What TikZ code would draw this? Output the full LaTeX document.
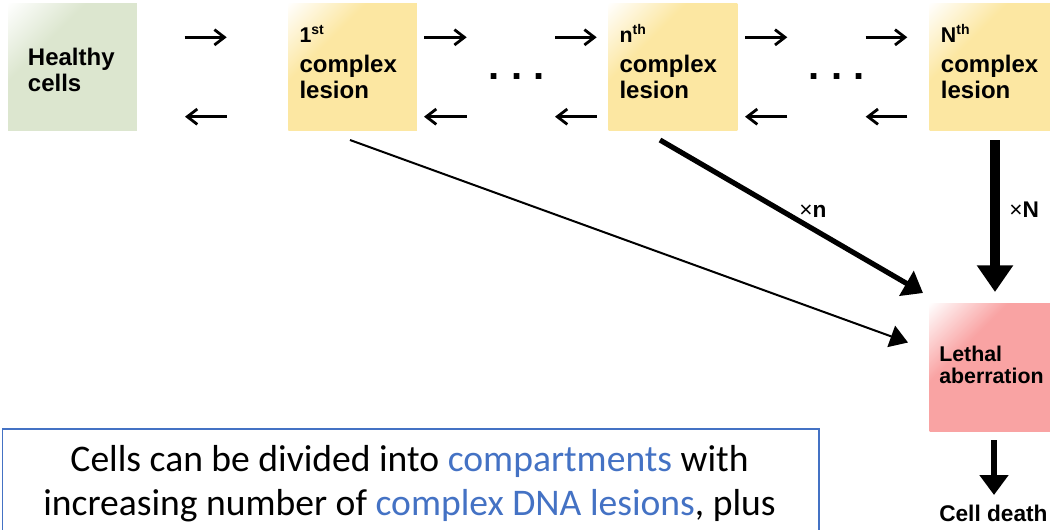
\documentclass[tikz,border=0pt]{standalone}
\usepackage{fontspec}
\setmainfont{Liberation Sans}
\newfontfamily\notefont{Carlito}
\usetikzlibrary{arrows.meta,calc}
\definecolor{gfill}{HTML}{DCE6CF}
\definecolor{yfill}{HTML}{FCE7A2}
\definecolor{pfill}{HTML}{F9A3A3}
\definecolor{blu}{HTML}{4472C4}
\pgfdeclarehorizontalshading{gsh}{100bp}{color(0bp)=(white); color(14bp)=(white); color(36bp)=(gfill); color(100bp)=(gfill)}
\pgfdeclarehorizontalshading{ysh}{100bp}{color(0bp)=(white); color(14bp)=(white); color(36bp)=(yfill); color(100bp)=(yfill)}
\pgfdeclarehorizontalshading{psh}{100bp}{color(0bp)=(white); color(14bp)=(white); color(36bp)=(pfill); color(100bp)=(pfill)}
\newcommand\stack[1]{\begin{tabular}[t]{@{}l@{}}#1\end{tabular}}
\newcommand\cstack[1]{\begin{tabular}[t]{@{}c@{}}#1\end{tabular}}
\newcommand\supr[1]{\raisebox{6.3pt}{\fontsize{10.5pt}{10.5pt}\selectfont #1}}
\newcommand\firstline[1]{{\fontsize{16pt}{16pt}\selectfont #1}}
\begin{document}
\begin{tikzpicture}[x=0.75pt,y=-0.75pt,
  cbox/.style={rectangle, inner sep=0pt, minimum width=96.4pt, minimum height=95.3pt, shading angle=-45},
  lbl/.style={anchor=base west, inner sep=0pt, font=\bfseries\fontsize{18pt}{19.5pt}\selectfont},
  smlbl/.style={anchor=base west, inner sep=0pt, font=\bfseries\fontsize{16pt}{16.5pt}\selectfont},
  dots/.style={anchor=base, inner sep=0pt, font=\bfseries\fontsize{30pt}{30pt}\selectfont},
  harr/.style={line width=2.1pt, -{Straight Barb[length=7.5pt,width=11.5pt]}},
  mult/.style={anchor=base west, inner sep=0pt, font=\fontsize{17pt}{17pt}\selectfont}]
\useasboundingbox (0,0) rectangle (1050,529);
\clip (0,0) rectangle (1050,529);

% boxes
\node[cbox, shading=gsh] (hc) at (72.5,67) {};
\node[cbox, shading=ysh] (l1) at (352.7,67) {};
\node[cbox, shading=ysh] (ln) at (673,67) {};
\node[cbox, shading=ysh] (lN) at (994,67) {};
\node[cbox, shading=psh] (le) at (994,367.5) {};

% labels
\node[lbl] (hcT) at (27.7,65) {\stack{Healthy\\cells}};
\node[lbl] (l1T) at (299.3,42.7) {\stack{\firstline{1\supr{st}}\\[3pt]complex\\lesion}};
\node[lbl] (lnT) at (619.3,42.7) {\stack{\firstline{n\supr{th}}\\[3pt]complex\\lesion}};
\node[lbl] (lNT) at (940.7,42.7) {\stack{\firstline{N\supr{th}}\\[3pt]complex\\lesion}};
\node[smlbl] (leT) at (939,361) {\stack{Lethal\\aberration}};
\node[anchor=base west, inner sep=0pt, font=\bfseries\fontsize{17pt}{17pt}\selectfont] (cd) at (939,521.5) {Cell death};

% dots
\node[dots] (d1) at (516.6,79) {.\ .\ .};
\node[dots] (d2) at (836.6,79) {.\ .\ .};

% short arrows
\coordinate (a1s) at (184.5,37.3); \coordinate (a1e) at (226.7,37.3);
\coordinate (b1s) at (226.7,116.7); \coordinate (b1e) at (185,116.7);
\coordinate (a2s) at (424,37.3); \coordinate (a2e) at (466.7,37.3);
\coordinate (b2s) at (466.7,116.7); \coordinate (b2e) at (424,116.7);
\coordinate (a3s) at (555,37.3); \coordinate (a3e) at (596.7,37.3);
\coordinate (b3s) at (596.7,116.7); \coordinate (b3e) at (555,116.7);
\coordinate (a4s) at (745,37.3); \coordinate (a4e) at (787.3,37.3);
\coordinate (b4s) at (787.3,116.7); \coordinate (b4e) at (745,116.7);
\coordinate (a5s) at (865.7,37.3); \coordinate (a5e) at (907.3,37.3);
\coordinate (b5s) at (907.3,116.7); \coordinate (b5e) at (865.7,116.7);
\foreach \i in {1,...,5}{
  \draw[harr] (a\i s) -- (a\i e);
  \draw[harr] (b\i s) -- (b\i e);
}

% arrows to lethal aberration
\coordinate (t1s) at (350,140); \coordinate (t1e) at (908,342.5);
\draw[line width=1.5pt, -{Triangle[length=13.4pt,width=16.8pt]}] (t1s) -- (t1e);
\coordinate (t2s) at (660,140); \coordinate (t2e) at (923,293);
\draw[line width=3.9pt, -{Triangle[length=14.4pt,width=21pt]}] (t2s) -- (t2e);
\coordinate (t3s) at (995,140); \coordinate (t3e) at (995,292);
\draw[line width=7pt, -{Triangle[length=20pt,width=26pt]}] (t3s) -- (t3e);
\node[mult] (xn) at (799,217) {×\textbf{n}};
\node[mult] (xN) at (1009,217) {×\textbf{N}};

% to cell death
\coordinate (cds) at (994,440); \coordinate (cde) at (994,495);
\draw[line width=3.9pt, -{Triangle[length=15pt,width=21pt]}] (cds) -- (cde);

% note box
\node[draw=blu, line width=1.3pt, rectangle, inner sep=0pt, minimum width=612.5pt, minimum height=120pt, anchor=north west] (note) at (1.7,428.3) {};
\node[anchor=base, inner sep=0pt, font=\notefont\fontsize{28.2pt}{32.5pt}\selectfont] (noteT) at (409.5,471.7)
  {\cstack{Cells can be divided into \textcolor{blu}{compartments} with\\increasing number of \textcolor{blu}{complex DNA lesions}, plus}};
\end{tikzpicture}
\end{document}
